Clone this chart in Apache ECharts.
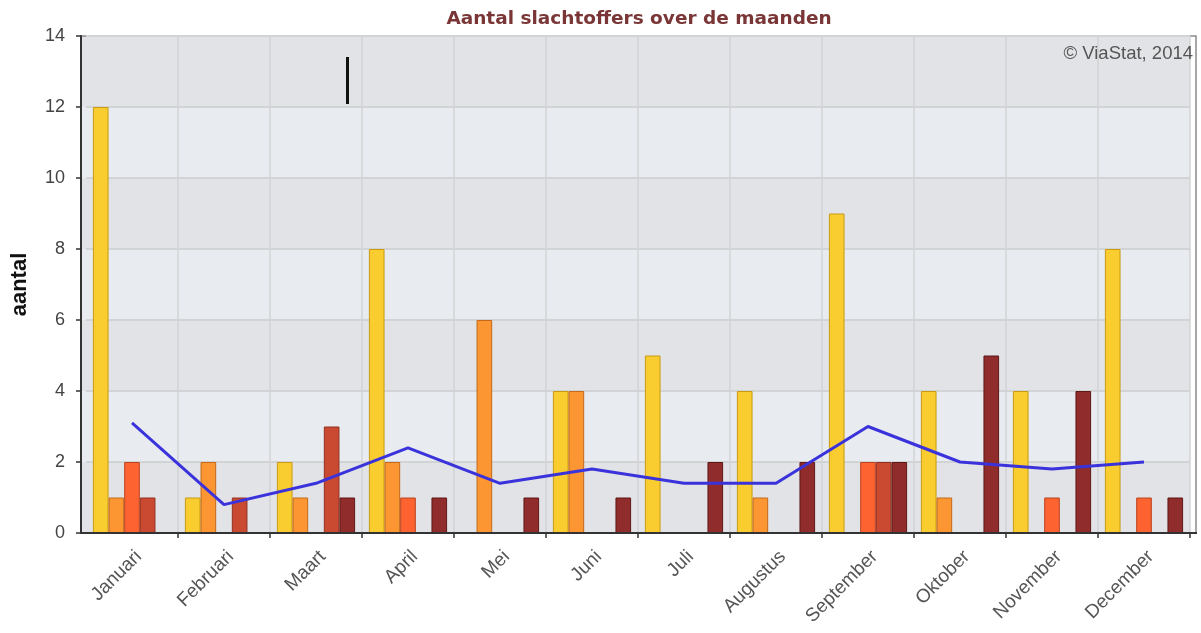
<!DOCTYPE html>
<html>
<head>
<meta charset="utf-8">
<script src="https://cdn.jsdelivr.net/npm/echarts@6/dist/echarts.min.js"></script>
<style>html,body{margin:0;padding:0;background:#fff}#c{width:1201px;height:633px}</style>
</head>
<body>
<div id="c"></div>
<script>
const months = ['Januari','Februari','Maart','April','Mei','Juni','Juli','Augustus','September','Oktober','November','December'];
const yTicks = [0, 2, 4, 6, 8, 10, 12, 14];
const seriesA = [12, 1, 2, 8, 0, 4, 5, 4, 9, 4, 4, 8];
const seriesB = [1, 2, 1, 2, 6, 4, 0, 1, 0, 1, 0, 0];
const seriesC = [2, 0, 0, 1, 0, 0, 0, 0, 2, 0, 1, 1];
const seriesD = [1, 1, 3, 0, 0, 0, 0, 0, 2, 0, 0, 0];
const seriesE = [0, 0, 1, 1, 1, 1, 2, 2, 2, 5, 4, 1];
const average = [3.1, 0.8, 1.4, 2.4, 1.4, 1.8, 1.4, 1.4, 3.0, 2.0, 1.8, 2.0];

const barDefs = [
  {name: 'A', data: seriesA, color: '#f9cc30', border: '#c99a12'},
  {name: 'B', data: seriesB, color: '#fb9632', border: '#c46a1a'},
  {name: 'C', data: seriesC, color: '#fd6331', border: '#bb4420'},
  {name: 'D', data: seriesD, color: '#c94a30', border: '#923020'},
  {name: 'E', data: seriesE, color: '#902c2c', border: '#5e1818'}
];

const DARK = '#e2e3e6', LIGHT = '#e8ebef';
// hard-stop gradient for the narrow strip between the y-axis and the first category band
const stripStops = [];
const nBands = yTicks.length - 1;
for (let k = 0; k < nBands; k++) {
  const c = (k % 2 === 0) ? DARK : LIGHT;
  stripStops.push({offset: k / nBands, color: c});
  stripStops.push({offset: (k + 1) / nBands, color: c});
}

const chart = echarts.init(document.getElementById('c'), null, {renderer: 'canvas'});
const series = barDefs.map(d => ({
  type: 'bar', name: d.name,
  data: d.data.map(v => v === 0 ? null : v),
  barGap: '0%', barCategoryGap: '15%',
  itemStyle: {color: d.color, borderColor: d.border, borderWidth: 1},
  z: 3
}));
series.push({
  type: 'line', name: 'gemiddelde', data: average,
  symbol: 'none', smooth: false,
  lineStyle: {color: '#3a33dc', width: 3},
  z: 5
});

chart.setOption({
  animation: false,
  backgroundColor: '#ffffff',
  title: {
    text: 'Aantal slachtoffers over de maanden',
    left: 634, top: 5, textAlign: 'center',
    textStyle: {fontFamily: 'DejaVu Sans', fontWeight: 'bold', fontSize: 18.5, color: '#7a3636'}
  },
  graphic: [
    {type: 'rect', z: -20, silent: true, shape: {x: 81, y: 36, width: 6, height: 497},
     style: {fill: new echarts.graphic.LinearGradient(0, 0, 0, 1, stripStops)}},
    {type: 'rect', z: -10, shape: {x: 81, y: 36, width: 1115, height: 497},
     style: {fill: 'none', stroke: '#8a8a8a', lineWidth: 1.5}},
    {type: 'line', z: 10, shape: {x1: 80, y1: 533, x2: 1197, y2: 533},
     style: {stroke: '#333', lineWidth: 2}},
    {type: 'text', right: 8, top: 44, z: 10,
     style: {text: '\u00a9 ViaStat, 2014', fontFamily: 'Liberation Sans', fontSize: 18.5, fill: '#555'}},
    {type: 'rect', z: 10, shape: {x: 346, y: 57, width: 3, height: 47}, style: {fill: '#111'}}
  ],
  grid: {left: 86, right: 11, top: 36, bottom: 100, containLabel: false, outerBoundsMode: 'none',
         show: true, backgroundColor: 'transparent', borderWidth: 0},
  xAxis: {
    type: 'category', data: months,
    axisLine: {show: true, lineStyle: {color: '#333', width: 2}},
    axisTick: {show: true, length: 5, interval: function (i) { return i !== 0; }, lineStyle: {color: '#333', width: 1.5}},
    axisLabel: {rotate: 45, margin: 14, verticalAlign: 'top', fontFamily: 'Liberation Sans', fontSize: 19, color: '#555'},
    splitLine: {show: true, interval: function (i) { return i !== 0; }, lineStyle: {color: '#d2d3d5', width: 1.5}}
  },
  yAxis: {
    type: 'value', min: yTicks[0], max: yTicks[yTicks.length - 1], interval: 2,
    offset: 5,
    name: 'aantal', nameLocation: 'middle', nameGap: 50, nameRotate: 90,
    nameTextStyle: {fontFamily: 'Liberation Sans', fontWeight: 'bold', fontSize: 22, color: '#111'},
    axisLine: {show: true, lineStyle: {color: '#333', width: 2}},
    axisTick: {show: true, length: 5, lineStyle: {color: '#333', width: 1.5}},
    axisLabel: {fontFamily: 'Liberation Sans', fontSize: 18, color: '#444', margin: 16},
    splitLine: {show: true, lineStyle: {color: '#d2d3d5', width: 2}},
    splitArea: {show: true, areaStyle: {color: [DARK, LIGHT]}}
  },
  series: series
});
</script>
</body>
</html>
